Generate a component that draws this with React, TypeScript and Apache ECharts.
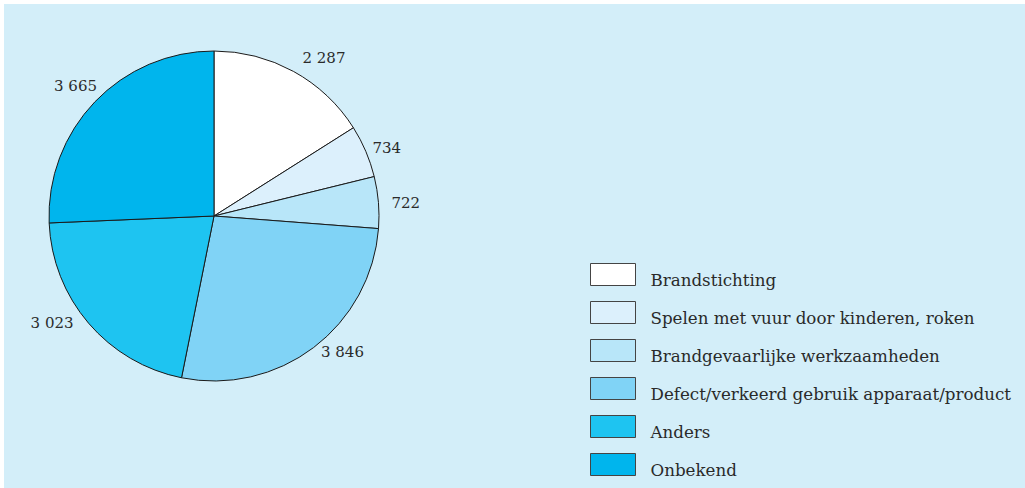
import React, { useEffect, useRef } from "react";
import * as echarts from "echarts";

const categories = [
  "Brandstichting",
  "Spelen met vuur door kinderen, roken",
  "Brandgevaarlijke werkzaamheden",
  "Defect/verkeerd gebruik apparaat/product",
  "Anders",
  "Onbekend",
];
const values = [2287, 734, 722, 3846, 3023, 3665];
const labels = ["2 287", "734", "722", "3 846", "3 023", "3 665"];
const colors = ["#ffffff", "#dcf0fc", "#b8e6f9", "#80d3f6", "#1ec4f1", "#00b5ed"];
// small label nudges (styling only)
const labelNudges = [[2, -10], [-2, -2], [4, 1], [0, 1], [-7, -3], [10, -13]];

const FONT = "'DejaVu Serif', serif";

export default function App() {
  const ref = useRef<HTMLDivElement>(null);
  useEffect(() => {
    document.body.style.margin = "0";
    const chart = echarts.init(ref.current!, undefined, { renderer: "svg" });
    chart.setOption({
      animation: false,
      graphic: [
        {
          type: "rect",
          shape: { x: 4, y: 4, width: 1030, height: 500 },
          style: { fill: "#d3eef9" },
          z: -10,
        },
      ],
      legend: {
        orient: "vertical",
        left: 590,
        top: 261,
        height: 260,
        padding: 0,
        itemWidth: 45,
        itemHeight: 22,
        itemGap: 11,
        icon: "rect",
        selectedMode: false,
        itemStyle: { borderColor: "#444", borderWidth: 1 },
        formatter: (name: string) => "{t|" + name + "}",
        textStyle: {
          fontFamily: FONT,
          fontSize: 16.7,
          color: "#2a2a2a",
          rich: {
            t: {
              fontFamily: FONT,
              fontSize: 16.7,
              color: "#2a2a2a",
              lineHeight: 12,
              padding: [10, 0, 0, 10],
            },
          },
        },
        data: categories,
      },
      series: [
        {
          type: "pie",
          center: [214, 216],
          radius: 165,
          startAngle: 90,
          clockwise: true,
          avoidLabelOverlap: false,
          itemStyle: { borderColor: "#1a1a1a", borderWidth: 1 },
          label: {
            show: true,
            position: "outside",
            fontFamily: FONT,
            fontSize: 15,
            color: "#2a2a2a",
            formatter: (p: any) => labels[p.dataIndex],
          },
          labelLine: { show: false, length: 4, length2: 0 },
          emphasis: { disabled: true },
          data: categories.map((c, i) => ({
            name: c,
            value: values[i],
            itemStyle: { color: colors[i] },
            label: { offset: labelNudges[i] },
          })),
        },
      ],
    });
    return () => chart.dispose();
  }, []);
  return <div ref={ref} style={{ width: 1025, height: 488 }} />;
}
